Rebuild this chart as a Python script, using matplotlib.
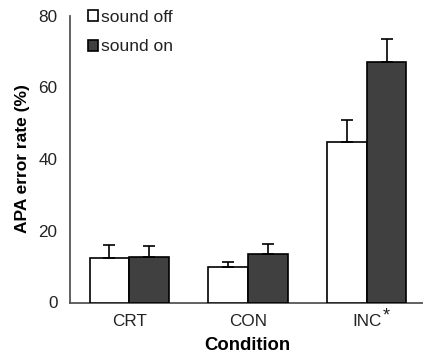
import matplotlib
matplotlib.use("Agg")
import matplotlib.pyplot as plt
import numpy as np

plt.rcParams['font.family'] = ['Liberation Sans', 'DejaVu Sans']

conditions = ["CRT", "CON", "INC"]
sound_off = [12.3, 9.8, 44.6]
sound_off_err = [3.7, 1.6, 6.4]
sound_on = [12.7, 13.4, 67.0]
sound_on_err = [3.1, 3.0, 6.4]

fig = plt.figure(figsize=(4.23, 3.54), dpi=100)
ax = fig.add_axes([70/423, (354-302.5)/354, 1 - 70/423 + 0.002, (302.5-15.5)/354])

x = np.arange(len(conditions))
w = 0.333
ax.bar(x - w/2, sound_off, w, color='white', edgecolor='black', linewidth=1.2,
       yerr=[np.zeros(3), sound_off_err], error_kw=dict(ecolor='black', elinewidth=1.2, capsize=4, capthick=1.2),
       label='sound off', zorder=3)
ax.bar(x + w/2, sound_on, w, color='#404040', edgecolor='black', linewidth=1.2,
       yerr=[np.zeros(3), sound_on_err], error_kw=dict(ecolor='black', elinewidth=1.2, capsize=4, capthick=1.2),
       label='sound on', zorder=3)

ax.set_xlim(-0.498, 2.48)
ax.set_ylim(0, 80)
ax.set_yticks([0, 20, 40, 60, 80])
ax.set_xticks(x)
ax.set_xticklabels(conditions)
ax.tick_params(axis='both', length=0, labelsize=12.3, colors='#222222')
ax.tick_params(axis='y', pad=9)
ax.tick_params(axis='x', pad=8)
for s in ['top', 'right']:
    ax.spines[s].set_visible(False)
for s in ['left', 'bottom']:
    ax.spines[s].set_color('#555555')
    ax.spines[s].set_linewidth(1.3)

ax.set_xlabel('Condition', fontsize=13.3, fontweight='bold', labelpad=6)
ax.set_ylabel('APA error rate (%)', fontsize=12.5, fontweight='bold', labelpad=6)

ax.annotate('*', xy=(2, 0), xycoords=('data', 'axes fraction'),
            xytext=(19, -18), textcoords='offset pixels', fontsize=13,
            ha='center', va='baseline', color='#222222')

leg = ax.legend(loc='upper left', bbox_to_anchor=(0.03, 1.045), frameon=False, fontsize=12.5,
                handlelength=0.6, handleheight=0.6, handletextpad=0.15, labelspacing=0.85, borderaxespad=0)
for t in leg.get_texts():
    t.set_color('#222222')

fig.savefig('out.png', dpi=100)
